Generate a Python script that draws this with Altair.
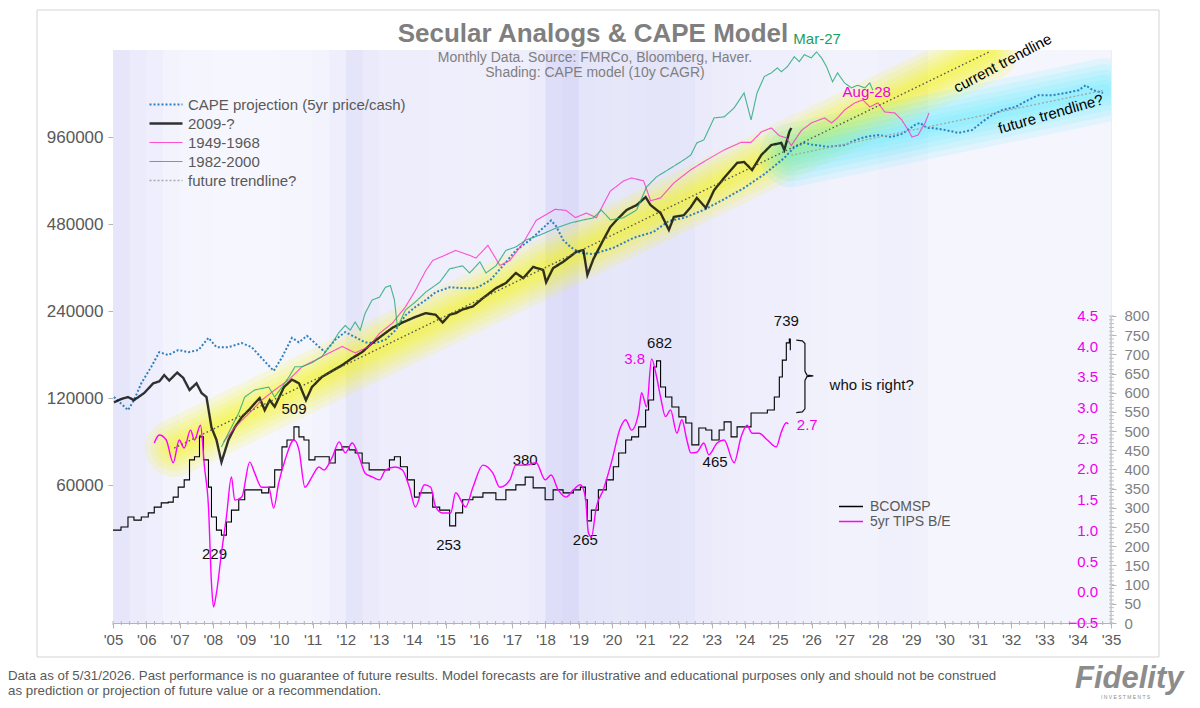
import altair as alt
import pandas as pd

FONT = "Liberation Sans"
W, H = 998, 573
GRAY = "#595959"

# ---------------- data ----------------
# 2009-? (left log scale)
black_years = [2005.03, 2005.24, 2005.45, 2005.63, 2005.94, 2006.21, 2006.39, 2006.54, 2006.69, 2006.93,
               2007.11, 2007.30, 2007.51, 2007.66, 2007.81, 2007.96, 2008.11, 2008.26, 2008.47, 2008.66,
               2008.87, 2009.08, 2009.26, 2009.41, 2009.56, 2009.71, 2009.86, 2010.14, 2010.38, 2010.59,
               2010.80, 2010.98, 2011.28, 2011.59, 2011.89, 2012.19, 2012.49, 2012.79, 2013.10, 2013.40,
               2013.70, 2014.09, 2014.40, 2014.70, 2014.91, 2015.12, 2015.30, 2015.51, 2015.82, 2016.12,
               2016.51, 2016.81, 2017.11, 2017.33, 2017.63, 2017.93, 2018.02, 2018.23, 2018.53, 2018.93,
               2019.14, 2019.26, 2019.44, 2019.74, 2019.95, 2020.14, 2020.44, 2020.74, 2021.01, 2021.16,
               2021.46, 2021.71, 2021.86, 2022.16, 2022.37, 2022.55, 2022.82, 2023.07, 2023.37, 2023.76,
               2023.97, 2024.21, 2024.49, 2024.79, 2025.09, 2025.18, 2025.33, 2025.39]
black_vals = [116e3, 119e3, 121e3, 118e3, 125e3, 135e3, 137e3, 144e3, 138e3, 147e3,
              141e3, 128e3, 135e3, 125e3, 121e3, 95e3, 86e3, 72e3, 86e3, 95e3,
              103e3, 109e3, 115e3, 120e3, 109e3, 118e3, 112e3, 131e3, 139e3, 135e3,
              118e3, 131e3, 142e3, 149e3, 156e3, 165e3, 173e3, 186e3, 198e3, 210e3,
              219e3, 229e3, 236e3, 233e3, 219e3, 233e3, 236e3, 243e3, 249e3, 266e3,
              288e3, 300e3, 325e3, 312e3, 341e3, 333e3, 302e3, 338e3, 355e3, 385e3,
              390e3, 320e3, 363e3, 423e3, 469e3, 496e3, 537e3, 558e3, 595e3, 558e3,
              524e3, 458e3, 508e3, 515e3, 550e3, 591e3, 546e3, 629e3, 693e3, 781e3,
              787e3, 738e3, 832e3, 901e3, 916e3, 866e3, 1000e3, 1032e3]

# 1949-1968 analog
pink_years = [2008.32, 2008.66, 2009.08, 2009.47, 2009.86, 2010.29, 2010.68, 2011.07, 2011.50, 2011.89,
              2012.28, 2012.70, 2013.01, 2013.40, 2013.79, 2014.09, 2014.40, 2014.61, 2014.97, 2015.30,
              2015.72, 2015.91, 2016.27, 2016.63, 2016.93, 2017.33, 2017.72, 2018.29, 2018.62, 2018.90,
              2019.23, 2019.53, 2019.95, 2020.35, 2020.59, 2020.95, 2021.16, 2021.46, 2021.86, 2022.37,
              2022.85, 2023.37, 2023.88, 2024.18, 2024.49, 2024.79, 2025.03, 2025.24, 2025.39, 2025.69,
              2025.99, 2026.39, 2026.60, 2026.78, 2026.99, 2027.30, 2027.54, 2027.75, 2027.99, 2028.20,
              2028.50, 2028.71, 2028.90, 2029.02, 2029.20, 2029.41, 2029.53]
pink_vals = [84.6e3, 95e3, 106e3, 118e3, 128e3, 139e3, 154e3, 162e3, 172e3, 181e3,
             172e3, 181e3, 201e3, 218e3, 248e3, 283e3, 331e3, 359e3, 374e3, 389e3,
             374e3, 366e3, 405e3, 345e3, 359e3, 413e3, 494e3, 540e3, 535e3, 505e3,
             524e3, 505e3, 624e3, 677e3, 693e3, 677e3, 578e3, 591e3, 666e3, 740e3,
             800e3, 866e3, 920e3, 920e3, 1000e3, 1032e3, 970e3, 953e3, 897e3, 1010e3,
             1074e3, 1118e3, 1074e3, 1118e3, 1191e3, 1260e3, 1290e3, 1220e3, 1260e3, 1172e3,
             1163e3, 1100e3, 1016e3, 960e3, 975e3, 1074e3, 1163e3]

# 1982-2000 analog
green_years = [2008.26, 2008.47, 2008.78, 2008.96, 2009.26, 2009.68, 2009.86, 2010.08, 2010.29, 2010.47,
               2010.68, 2010.98, 2011.28, 2011.59, 2011.80, 2011.98, 2012.13, 2012.28, 2012.43, 2012.58,
               2012.79, 2013.01, 2013.19, 2013.34, 2013.46, 2013.55, 2013.79, 2014.09, 2014.40, 2014.82,
               2015.12, 2015.51, 2015.72, 2016.03, 2016.21, 2016.51, 2016.81, 2017.11, 2017.42, 2017.84,
               2018.32, 2018.75, 2019.14, 2019.44, 2019.68, 2019.95, 2020.35, 2020.74, 2021.04, 2021.34,
               2021.77, 2022.16, 2022.37, 2022.55, 2022.76, 2023.07, 2023.37, 2023.67, 2023.97, 2024.18,
               2024.36, 2024.58, 2024.79, 2024.97, 2025.09, 2025.27, 2025.48, 2025.63, 2025.78, 2025.99,
               2026.15, 2026.30, 2026.45, 2026.63, 2026.78, 2026.99, 2027.20, 2027.38, 2027.60, 2027.75,
               2027.84]
green_vals = [81.3e3, 90.8e3, 106.5e3, 121e3, 128e3, 131e3, 121e3, 131e3, 142e3, 154e3,
              154e3, 159e3, 167e3, 186e3, 203e3, 214e3, 206e3, 220e3, 206e3, 236e3,
              262e3, 268e3, 290e3, 294e3, 262e3, 211e3, 242e3, 258e3, 279e3, 302e3,
              336e3, 344e3, 325e3, 355e3, 325e3, 344e3, 389e3, 400e3, 423e3, 440e3,
              465e3, 484e3, 496e3, 504e3, 537e3, 496e3, 505e3, 537e3, 645e3, 699e3,
              750e3, 800e3, 832e3, 916e3, 938e3, 1118e3, 1127e3, 1210e3, 1364e3, 1100e3,
              1364e3, 1555e3, 1600e3, 1665e3, 1615e3, 1680e3, 1820e3, 1750e3, 1850e3, 1803e3,
              1890e3, 1803e3, 1680e3, 1490e3, 1600e3, 1477e3, 1420e3, 1450e3, 1420e3, 1477e3,
              1394e3]

# CAPE projection (5yr price/cash)
cape_years = [2005.03, 2005.24, 2005.45, 2005.63, 2005.85, 2006.15, 2006.39, 2006.66, 2006.96, 2007.27,
              2007.57, 2007.87, 2008.11, 2008.47, 2008.87, 2009.17, 2009.47, 2009.83, 2010.08, 2010.38,
              2010.59, 2010.83, 2011.07, 2011.37, 2011.68, 2011.98, 2012.28, 2012.58, 2012.88, 2013.19,
              2013.49, 2013.79, 2014.09, 2014.40, 2014.70, 2015.12, 2015.60, 2015.91, 2016.33, 2016.72,
              2017.11, 2017.54, 2017.84, 2018.17, 2018.32, 2018.53, 2018.75, 2019.05, 2019.44, 2020.04,
              2020.65, 2021.25, 2021.71, 2022.16, 2022.76, 2023.37, 2023.97, 2024.58, 2025.18, 2025.48,
              2025.78, 2025.99, 2026.48, 2026.99, 2027.30, 2027.60, 2027.99, 2028.41, 2028.71, 2028.90,
              2029.11, 2029.26, 2029.47, 2029.62, 2030.01, 2030.41, 2030.83, 2031.13, 2031.43, 2031.74,
              2032.13, 2032.52, 2032.82, 2033.25, 2033.64, 2034.03, 2034.24, 2034.45, 2034.76]
cape_vals = [121e3, 115e3, 109e3, 118e3, 135e3, 154e3, 173e3, 169e3, 176e3, 173e3,
             176e3, 194e3, 180e3, 180e3, 186e3, 180e3, 165e3, 149e3, 166e3, 194e3,
             187e3, 197e3, 186e3, 173e3, 191e3, 203e3, 195e3, 187e3, 186e3, 191e3,
             206e3, 232e3, 248e3, 262e3, 279e3, 290e3, 288e3, 288e3, 306e3, 344e3,
             389e3, 423e3, 455e3, 494e3, 472e3, 423e3, 400e3, 381e3, 378e3, 397e3,
             430e3, 451e3, 492e3, 504e3, 537e3, 585e3, 640e3, 714e3, 813e3, 885e3,
             916e3, 905e3, 888e3, 900e3, 935e3, 960e3, 975e3, 960e3, 984e3, 1016e3,
             1058e3, 1074e3, 1032e3, 1032e3, 1016e3, 992e3, 1016e3, 1083e3, 1145e3, 1191e3,
             1220e3, 1290e3, 1340e3, 1340e3, 1364e3, 1394e3, 1450e3, 1394e3, 1364e3]

# trendlines
cur_trend_years = [2006.84, 2031.33]
cur_trend_vals = [80.6e3, 1890e3]
future_years = [2025.39, 2034.80]
future_vals = [830e3, 1394e3]

# BCOMSP (right gray axis)
bcom_years = [2005.00, 2005.24, 2005.45, 2005.63, 2005.85, 2006.06, 2006.24, 2006.45, 2006.66, 2006.81,
              2006.96, 2007.14, 2007.30, 2007.45, 2007.60, 2007.72, 2007.87, 2007.96, 2008.11, 2008.26,
              2008.41, 2008.56, 2008.78, 2008.96, 2009.26, 2009.47, 2009.68, 2009.86, 2010.08, 2010.23,
              2010.44, 2010.59, 2010.74, 2010.89, 2011.07, 2011.28, 2011.50, 2011.68, 2011.89, 2012.10,
              2012.28, 2012.49, 2012.70, 2013.01, 2013.31, 2013.46, 2013.64, 2013.85, 2014.06, 2014.21,
              2014.40, 2014.61, 2014.82, 2015.12, 2015.30, 2015.51, 2015.82, 2016.12, 2016.51, 2016.81,
              2017.11, 2017.39, 2017.63, 2017.99, 2018.23, 2018.53, 2018.84, 2019.05, 2019.20, 2019.26,
              2019.38, 2019.59, 2019.83, 2020.04, 2020.20, 2020.41, 2020.59, 2020.80, 2021.01, 2021.10,
              2021.25, 2021.34, 2021.46, 2021.61, 2021.80, 2022.01, 2022.22, 2022.40, 2022.61, 2022.82,
              2023.00, 2023.22, 2023.37, 2023.58, 2023.76, 2023.97, 2024.18, 2024.49, 2024.67, 2024.88,
              2025.03, 2025.12, 2025.24, 2025.33, 2025.36]
bcom_vals = [242, 250, 276, 268, 276, 287, 302, 313, 315, 328,
             354, 373, 425, 433, 485, 425, 354, 276, 242, 229,
             263, 294, 321, 347, 347, 339, 354, 399, 459, 477,
             511, 485, 477, 425, 433, 433, 417, 451, 459, 451,
             443, 417, 399, 399, 425, 433, 407, 373, 328, 339,
             339, 302, 294, 253, 287, 321, 328, 339, 321, 347,
             360, 380, 352, 321, 347, 339, 347, 354, 321, 266,
             294, 347, 373, 407, 443, 477, 485, 511, 555, 581,
             667, 683, 615, 589, 563, 537, 521, 464, 508, 503,
             477, 503, 524, 485, 511, 511, 547, 547, 555, 589,
             641, 685, 730, 740, 711]

# 5yr TIPS breakeven (right magenta axis)
tips_years = [2006.24, 2006.39, 2006.60, 2006.81, 2006.99, 2007.14, 2007.33, 2007.45, 2007.63, 2007.75,
              2007.87, 2007.96, 2008.02, 2008.11, 2008.26, 2008.41, 2008.56, 2008.66, 2008.87, 2009.11,
              2009.26, 2009.47, 2009.68, 2009.83, 2009.98, 2010.17, 2010.44, 2010.59, 2010.77, 2010.98,
              2011.19, 2011.34, 2011.59, 2011.80, 2011.98, 2012.19, 2012.40, 2012.58, 2012.79, 2013.01,
              2013.19, 2013.49, 2013.70, 2013.91, 2014.09, 2014.36, 2014.55, 2014.70, 2014.91, 2015.15,
              2015.30, 2015.60, 2015.82, 2016.12, 2016.42, 2016.63, 2016.93, 2017.11, 2017.42, 2017.72,
              2017.99, 2018.17, 2018.38, 2018.62, 2018.84, 2019.05, 2019.20, 2019.29, 2019.38, 2019.53,
              2019.74, 2019.98, 2020.26, 2020.41, 2020.59, 2020.80, 2020.89, 2021.04, 2021.19, 2021.34,
              2021.46, 2021.61, 2021.76, 2021.95, 2022.10, 2022.25, 2022.37, 2022.55, 2022.76, 2022.91,
              2023.16, 2023.37, 2023.67, 2023.88, 2024.06, 2024.21, 2024.42, 2024.67, 2024.94, 2025.09,
              2025.24, 2025.30]
tips_vals = [2.43, 2.56, 2.48, 2.11, 2.48, 2.35, 2.64, 2.48, 2.72, 2.04,
             1.39, 0.15, -0.24, -0.01, 0.64, 1.23, 1.88, 1.50, 1.55, 2.12,
             1.94, 1.71, 1.71, 1.37, 1.78, 2.15, 2.48, 2.32, 1.71, 1.88,
             2.04, 1.99, 2.20, 2.45, 2.27, 2.43, 2.20, 1.94, 1.88, 1.83,
             1.99, 2.04, 1.99, 1.71, 1.39, 1.75, 1.71, 1.39, 1.29, 1.29,
             1.62, 1.39, 1.71, 2.07, 1.94, 1.71, 1.83, 2.07, 2.07, 2.11,
             1.83, 1.91, 1.67, 1.55, 1.67, 1.75, 1.55, 0.97, 0.90, 1.39,
             1.67, 2.11, 2.69, 2.81, 2.64, 2.92, 3.25, 3.02, 3.80, 3.51,
             3.18, 2.86, 2.97, 2.59, 2.81, 2.48, 2.27, 2.28, 2.43, 2.24,
             2.43, 2.48, 2.11, 2.53, 2.72, 2.59, 2.59, 2.48, 2.37, 2.61,
             2.76, 2.74]

# Background shading: CAPE model (10y CAGR), half-year bins, relative intensity
shade_start = [2005 + 0.5 * i for i in range(60)]
shade_val = [0.55, 0.40, 0.30, 0.15, 0.10, 0.10, 0.05, 0.05, 0.05, 0.05,
             0.08, 0.10, 0.15, 0.30, 0.60, 0.45, 0.35, 0.35, 0.35, 0.30,
             0.30, 0.28, 0.28, 0.30, 0.30, 0.40, 0.80, 0.90, 0.60, 0.55,
             0.52, 0.55, 0.60, 0.60, 0.55, 0.45, 0.38, 0.35, 0.32, 0.30,
             0.30, 0.25, 0.22, 0.20, 0.20, 0.20, 0.25, 0.25, 0.22, 0.10,
             0.08, 0.08, 0.08, 0.08, 0.08, 0.08, 0.08, 0.08, 0.08, 0.08]

# Tick values / labels
year_ticks = list(range(2005, 2036))
quarter_ticks = [2005 + 0.25 * i for i in range(121)]
left_ticks = [60000, 120000, 240000, 480000, 960000]
bcom_major = list(range(0, 801, 50))
bcom_minor = list(range(0, 801, 10))
tips_ticks = [-0.5, 0.0, 0.5, 1.0, 1.5, 2.0, 2.5, 3.0, 3.5, 4.0, 4.5]

# Annotations
bcom_note_text = ["229", "509", "253", "380", "265", "682", "465", "739"]
bcom_note_year = [2008.05, 2010.44, 2015.09, 2017.39, 2019.20, 2021.43, 2023.10, 2025.24]
bcom_note_val = [180, 558, 203, 425, 216, 730, 420, 787]
tips_note_text = ["3.8", "2.7"]
tips_note_year = [2020.68, 2025.87]
tips_note_val = [3.80, 2.72]
brace_year = [2025.54, 2025.72, 2025.80, 2025.80, 2025.86, 2026.05, 2025.86, 2025.80, 2025.80, 2025.72, 2025.54]
brace_val = [737, 735, 728, 656, 646, 644, 642, 632, 558, 550, 548]

series_order = ["CAPE projection (5yr price/cash)", "2009-?", "1949-1968", "1982-2000", "future trendline?"]
series_colors = ["#2f7fc1", "rgba(0,0,0,0.8)", "rgba(255,40,200,0.8)", "rgba(40,170,120,0.85)", "#a8a8a8"]
series_dash = [[2, 2], [1, 0], [1, 0], [1, 0], [2, 2]]
series_width = [2.0, 2.4, 1.1, 1.1, 1.4]

# ---------------- chart ----------------
xs = alt.Scale(domain=[2005, 2035], nice=False, zero=False)
x_axis = alt.Axis(values=year_ticks, tickCount=500, title=None, grid=False,
                  labelExpr="\"'\" + substring(toString(datum.value), 2, 4)",
                  labelOverlap=False, labelFlush=False, tickSize=5, tickColor="#b4b4b4",
                  domainColor="#b4b4b4", labelColor=GRAY, labelFontSize=15, labelPadding=4)
X = alt.X("year:Q", scale=xs, axis=x_axis)

yl_scale = alt.Scale(type="log", domain=[20000, 1920000], nice=False)
yl_axis = alt.Axis(orient="left", values=left_ticks, tickCount=500, format="d", title=None, grid=False,
                   labelColor=GRAY, labelFontSize=17, tickSize=5, tickColor="#b4b4b4",
                   domainColor="#c8c8c8", labelPadding=5)
YL = alt.Y("value:Q", scale=yl_scale, axis=yl_axis)

leg1 = alt.Legend(title=None, orient="none", legendX=35, legendY=45, symbolType="stroke",
                  symbolSize=1089, labelFontSize=15, labelColor=GRAY, labelFont=FONT, labelLimit=500,
                  clipHeight=19, rowPadding=0, padding=0, labelOffset=4)

left_df = pd.concat([
    pd.DataFrame({"year": cape_years, "value": cape_vals, "series": series_order[0]}),
    pd.DataFrame({"year": black_years, "value": black_vals, "series": series_order[1]}),
    pd.DataFrame({"year": pink_years, "value": pink_vals, "series": series_order[2]}),
    pd.DataFrame({"year": green_years, "value": green_vals, "series": series_order[3]}),
    pd.DataFrame({"year": future_years, "value": future_vals, "series": series_order[4]}),
], ignore_index=True)

# bins overlap a hair so that no seams show between them
shade_df = pd.DataFrame({"start": shade_start, "end": [s + 0.52 for s in shade_start], "v": shade_val})
shading = alt.Chart(shade_df).mark_rect().encode(
    x=alt.X("start:Q", scale=xs, axis=x_axis), x2="end:Q",
    y=alt.value(0), y2=alt.value(H),
    fill=alt.Fill("v:Q", scale=alt.Scale(domain=[0, 1], range=["#f8f8fe", "#d8d8f6"]), legend=None),
)

minor_x = alt.Chart(pd.DataFrame({"year": quarter_ticks})).mark_rule(color="#b4b4b4").encode(
    x=X, y=alt.value(H - 2), y2=alt.value(H + 2))

trend_df = pd.DataFrame({"year": cur_trend_years, "value": cur_trend_vals})
fut_df = pd.DataFrame({"year": future_years, "value": future_vals})
glows = []
for w in [58, 47, 37, 28, 20, 12]:
    glows.append(alt.Chart(trend_df).mark_line(color="#f4f400", strokeWidth=w, opacity=0.13,
                                               strokeCap="round", clip=True).encode(x=X, y=YL))
for w in [64, 52, 41, 31, 21, 12]:
    glows.append(alt.Chart(fut_df).mark_line(color="#40eaff", strokeWidth=w, opacity=0.11,
                                             strokeCap="round", clip=True).encode(x=X, y=YL))

series = alt.Chart(left_df).mark_line(clip=True).encode(
    x=X, y=YL,
    color=alt.Color("series:N", scale=alt.Scale(domain=series_order, range=series_colors), legend=leg1),
    strokeDash=alt.StrokeDash("series:N", scale=alt.Scale(domain=series_order, range=series_dash), legend=leg1),
    strokeWidth=alt.StrokeWidth("series:N", scale=alt.Scale(type="ordinal", domain=series_order, range=series_width), legend=leg1),
)

cur_trend = alt.Chart(trend_df).mark_line(color="#555555", strokeDash=[1.5, 2.5], strokeWidth=1.4).encode(x=X, y=YL)

def note(df, **kw):
    return alt.Chart(df).mark_text(font=FONT, **kw)

mar27 = note(pd.DataFrame({"year": [2025.45], "value": [2.015e6], "t": ["Mar-27"]}),
             align="left", baseline="alphabetic", fontSize=15, color="#1a9e5c").encode(x=X, y=YL, text="t:N")
aug28 = note(pd.DataFrame({"year": [2026.93], "value": [1.32e6], "t": ["Aug-28"]}),
             align="left", baseline="alphabetic", fontSize=15, color="#f000d8").encode(x=X, y=YL, text="t:N")
cur_lbl = note(pd.DataFrame({"year": [2031.74], "value": [1.73e6], "t": ["current trendline"]}),
               align="center", baseline="middle", fontSize=15, color="#000000", angle=332).encode(x=X, y=YL, text="t:N")
fut_lbl = note(pd.DataFrame({"year": [2033.19], "value": [1.153e6], "t": ["future trendline?"]}),
               align="center", baseline="middle", fontSize=15, color="#000000", angle=344).encode(x=X, y=YL, text="t:N")

def free_text(t, x, y, **kw):
    return alt.Chart(pd.DataFrame({"t": [t]})).mark_text(font=FONT, **kw).encode(
        x=alt.value(x), y=alt.value(y), text="t:N")

title = free_text("Secular Analogs & CAPE Model", 480, -8, fontSize=26, fontWeight="bold",
                  color="#7f7f7f", align="center", baseline="alphabetic")
sub1 = free_text("Monthly  Data. Source: FMRCo, Bloomberg, Haver.", 482, 12, fontSize=14,
                 color="#7f7f7f", align="center", baseline="alphabetic")
sub2 = free_text("Shading:  CAPE model (10y CAGR)", 482, 27, fontSize=14,
                 color="#7f7f7f", align="center", baseline="alphabetic")
foot1 = free_text("Data as of 5/31/2026. Past performance is no guarantee of future results. Model forecasts are for "
                  "illustrative and educational purposes only and should not be construed",
                  -105, 630, fontSize=13.3, color=GRAY, align="left", baseline="alphabetic")
foot2 = free_text("as prediction or projection of future value or a recommendation.",
                  -105, 645, fontSize=13.3, color=GRAY, align="left", baseline="alphabetic")
logo = free_text("Fidelity", 962, 638, fontSize=31, fontWeight="bold", fontStyle="italic",
                 color="#8c8c8c", align="left", baseline="alphabetic")
logo2 = free_text("I N V E S T M E N T S", 988, 649, fontSize=5, color="#8c8c8c",
                  align="left", baseline="alphabetic")

frame = alt.Chart(pd.DataFrame({"a": [0]})).mark_rect(fillOpacity=0, stroke="#d4d4d4", strokeWidth=1).encode(
    x=alt.value(-76), x2=alt.value(1046), y=alt.value(-40), y2=alt.value(607))

left_layer = alt.layer(shading, minor_x, *glows, series, cur_trend, mar27, aug28, cur_lbl, fut_lbl,
                       title, sub1, sub2, foot1, foot2, logo, logo2, frame)

# ---- BCOMSP layer (right axis) ----
s2 = alt.Scale(domain=["BCOMSP", "5yr TIPS B/E"], range=["#000000", "#ff00ff"])
leg2 = alt.Legend(title=None, orient="none", legendX=725, legendY=449, symbolType="stroke",
                  symbolSize=576, labelFontSize=14, labelColor=GRAY, labelFont=FONT, labelLimit=300,
                  clipHeight=15, rowPadding=0, padding=0, labelOffset=6)

yr_scale = alt.Scale(domain=[0, 1493], nice=False, zero=False)
yr_axis = alt.Axis(orient="right", values=bcom_major, tickCount=500, title=None, grid=False, domain=False,
                   labelOverlap=False, labelColor="#808080", labelFontSize=15, tickSize=5,
                   tickColor="#b4b4b4", labelPadding=8)
YR = alt.Y("value:Q", scale=yr_scale, axis=yr_axis)

bcom_df = pd.DataFrame({"year": bcom_years, "value": bcom_vals, "series": "BCOMSP"})
bcom_line = alt.Chart(bcom_df).mark_line(interpolate="step-after", strokeWidth=1.1).encode(
    x=X, y=YR, stroke=alt.Stroke("series:N", scale=s2, legend=leg2))
bcom_axis_line = alt.Chart(pd.DataFrame({"a": [0]})).mark_rule(color="#b4b4b4").encode(
    x=alt.datum(2035), y=alt.datum(0), y2=alt.datum(800))
bcom_minor_ticks = alt.Chart(pd.DataFrame({"value": bcom_minor})).mark_rule(color="#c0c0c0").encode(
    y=YR, x=alt.value(W - 2), x2=alt.value(W + 3))
bcom_notes = alt.Chart(pd.DataFrame({"year": bcom_note_year, "value": bcom_note_val, "t": bcom_note_text})).mark_text(
    font=FONT, fontSize=15, color="#111111", align="center", baseline="middle").encode(x=X, y=YR, text="t:N")
who = alt.Chart(pd.DataFrame({"year": [2026.54], "value": [620], "t": ["who is right?"]})).mark_text(
    font=FONT, fontSize=15, color="#111111", align="left", baseline="middle").encode(x=X, y=YR, text="t:N")
brace = alt.Chart(pd.DataFrame({"year": brace_year, "value": brace_val, "o": list(range(len(brace_year)))})).mark_line(
    color="#111111", strokeWidth=1.2).encode(x=X, y=YR, order="o:Q")

bcom_layer = alt.layer(bcom_axis_line, bcom_minor_ticks, bcom_line, bcom_notes, who, brace)

# ---- TIPS layer (magenta axis inside the plot) ----
yt_scale = alt.Scale(domain=[-0.5, 8.83], nice=False, zero=False)
YT = alt.Y("value:Q", scale=yt_scale, axis=None)
tips_df = pd.DataFrame({"year": tips_years, "value": tips_vals, "series": "5yr TIPS B/E"})
tips_line = alt.Chart(tips_df).mark_line(strokeWidth=1.4, interpolate="monotone").encode(
    x=X, y=YT, stroke=alt.Stroke("series:N", scale=s2, legend=leg2))
tips_labels = alt.Chart(pd.DataFrame({"value": tips_ticks})).mark_text(
    font=FONT, fontSize=15, color="#ee00ee", align="right", baseline="middle").encode(
    x=alt.value(W - 13), y=YT, text=alt.Text("value:Q", format=".1f"))
tips_notes = alt.Chart(pd.DataFrame({"year": tips_note_year, "value": tips_note_val, "t": tips_note_text})).mark_text(
    font=FONT, fontSize=15, color="#ee00ee", align="center", baseline="middle").encode(x=X, y=YT, text="t:N")
tips_layer = alt.layer(tips_line, tips_labels, tips_notes)

chart = alt.layer(left_layer, bcom_layer, tips_layer).resolve_scale(y="independent").properties(
    width=W, height=H,
    autosize=alt.AutoSizeParams(type="none"),
    padding={"left": 105, "top": 42, "right": 81, "bottom": 77},
    background="white",
).configure_view(stroke=None).configure(font=FONT)

chart.save("out.html", embed_options={"renderer": "svg", "actions": False})
